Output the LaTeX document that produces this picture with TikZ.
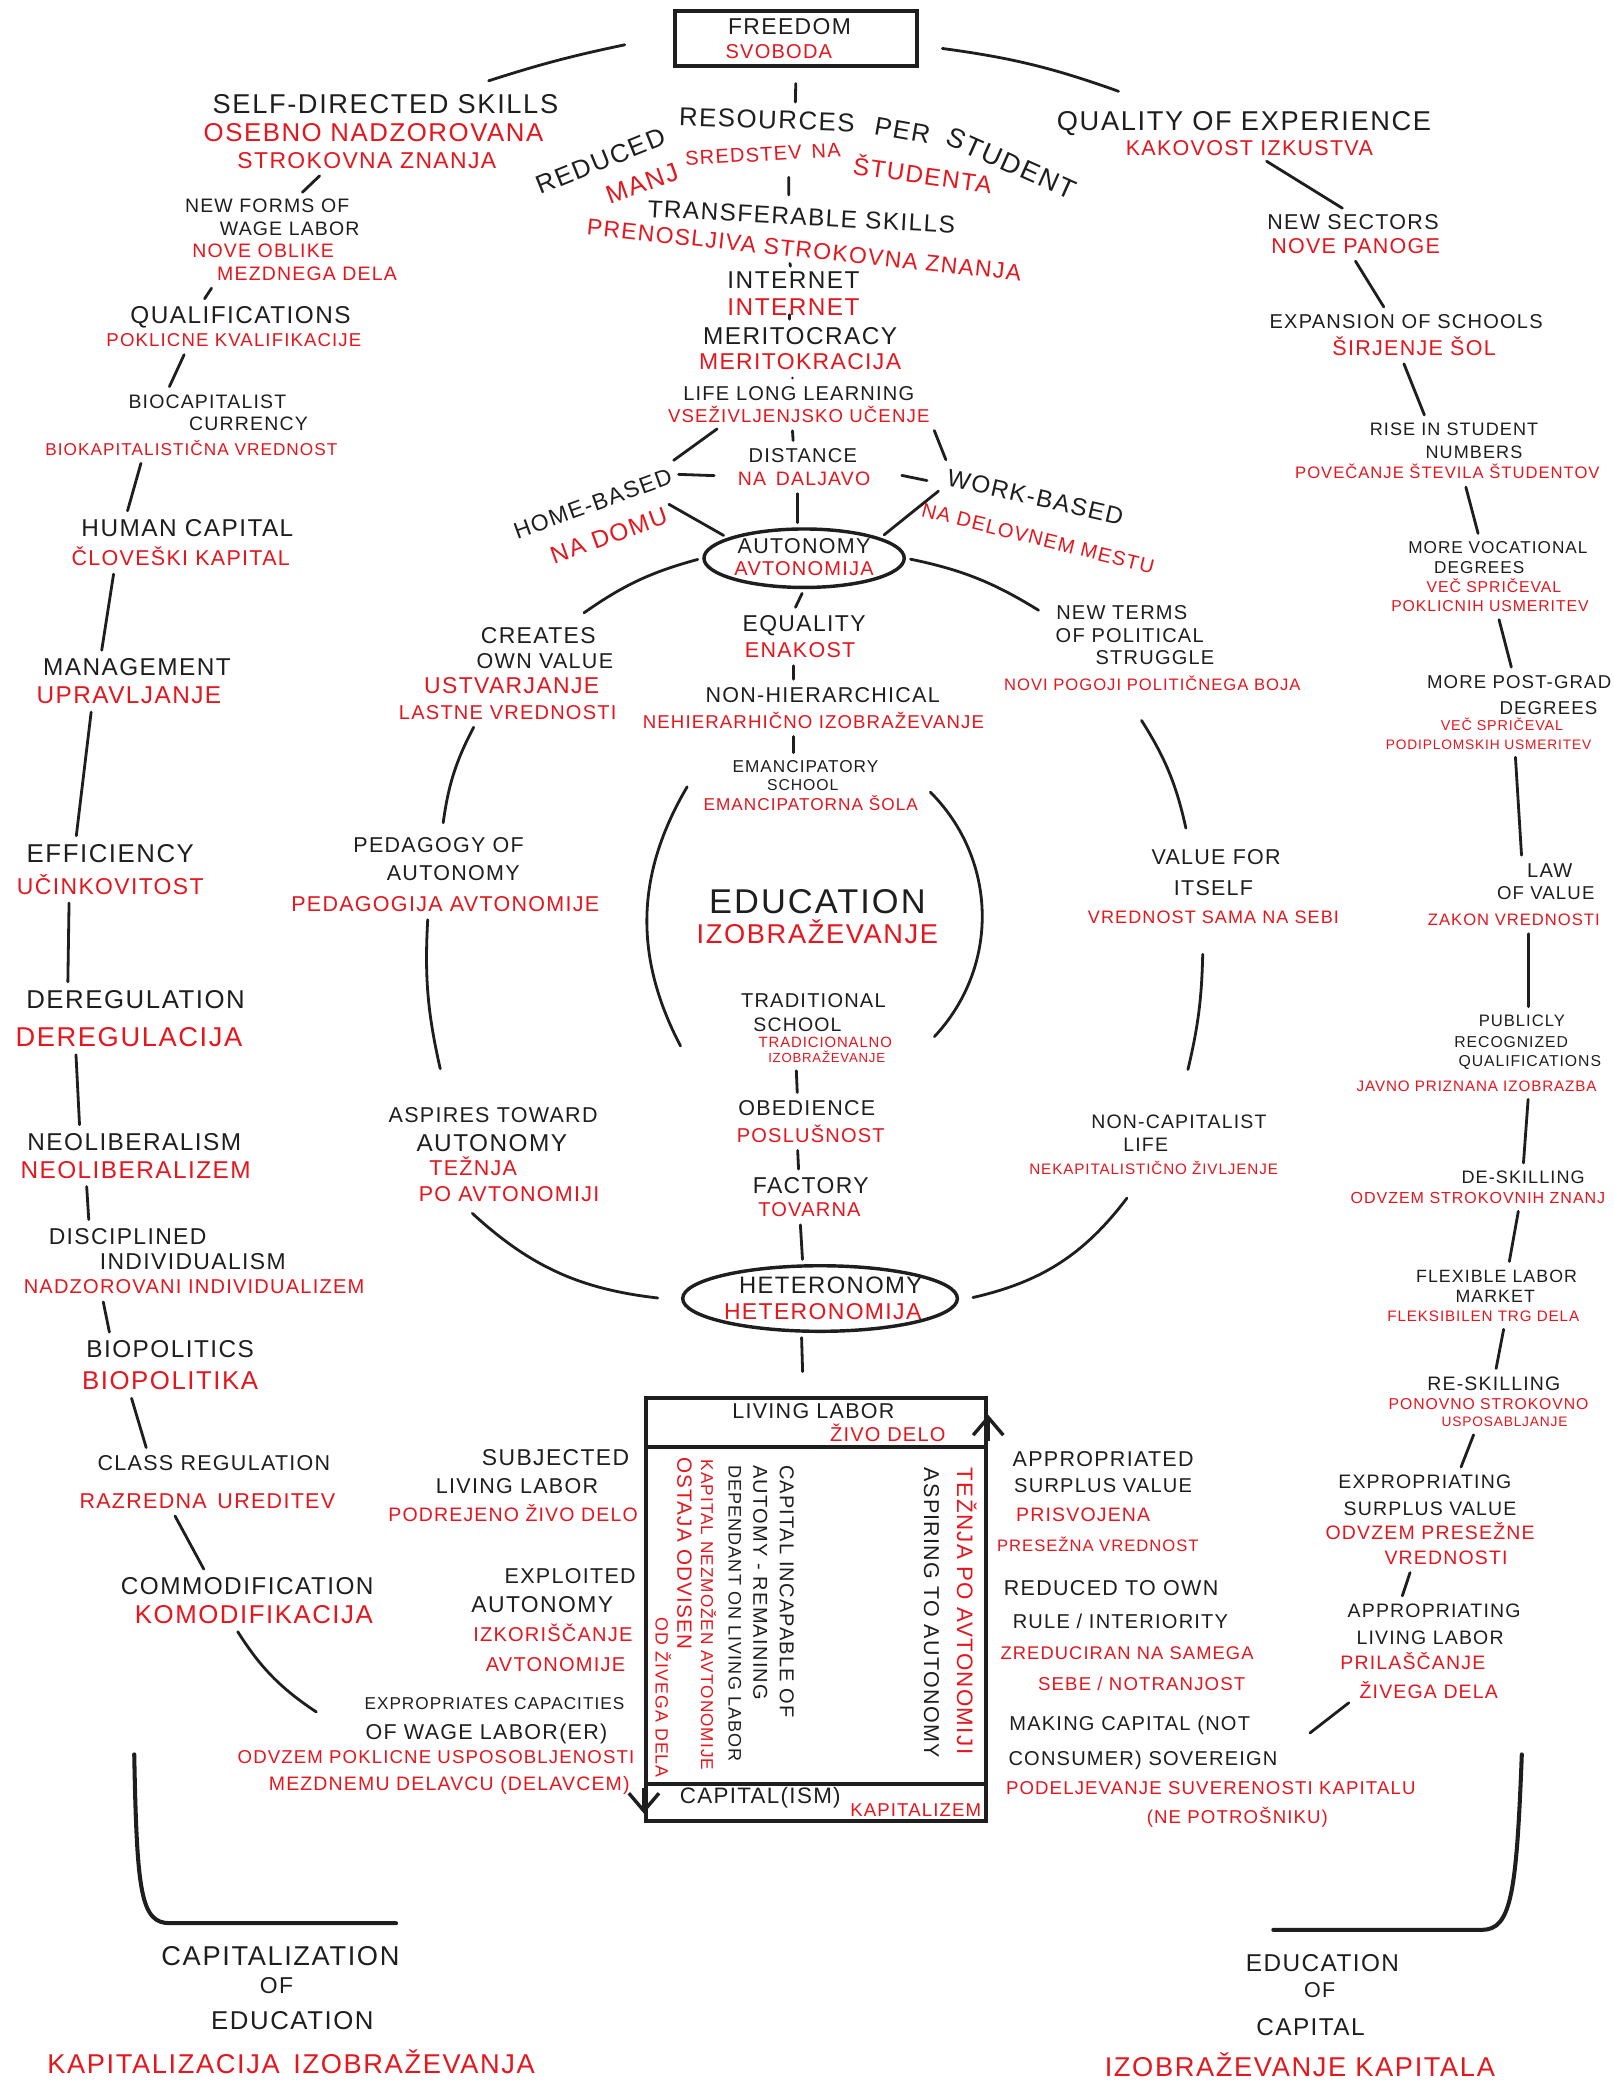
\documentclass[tikz,border=0pt]{standalone}
\usepackage{fontspec}
\setmainfont{Liberation Sans}[LetterSpace=6]
\usepackage{tikz}
\usetikzlibrary{arrows.meta,calc,positioning,shapes.geometric}
\definecolor{eduink}{HTML}{1E1E1E}
\definecolor{edured}{HTML}{E4161E}
\tikzset{%
  eduen/.style={inner sep=0.8pt, text=eduink},
  edusl/.style={inner sep=0.8pt, text=edured},
  fs/.style={font=\pgfmathsetmacro\edufs{0.92*#1}\fontsize{\edufs}{\edufs}\selectfont, text height={#1*0.67pt}, text depth={#1*0.03pt}},
  edulink/.style={draw=eduink, line width=0.9pt, line cap=round, shorten <=1.5pt, shorten >=1.5pt},
  eduframe/.style={draw=eduink, line width=1.3pt},
  eduoval/.style={ellipse, draw=eduink, line width=1.1pt, inner sep=0pt},
  edubarb/.style={draw=eduink, line width=1.1pt, -{Straight Barb[length=2mm,width=3.4mm]}}
}

\begin{document}
\begin{tikzpicture}[x=0.15mm, y=-0.15mm]
  \fill[white] (0,0) rectangle (1214,1568);
  \useasboundingbox (0,0) rectangle (1214,1568);

  % top
  \node[eduframe, minimum width=27.3mm, minimum height=6.2mm, inner sep=0pt] (freedom) at (599,29) {};
  \node[eduen, fs=8] (freedom1) at (594,20) {FREEDOM};
  \node[edusl, fs=7] (freedom2) at (586,39) {SVOBODA};

  \node[eduen, fs=9, rotate=22] (rr1) at (452,121) {REDUCED};
  \node[eduen, fs=9, rotate=-2] (rr2) at (577,90) {RESOURCES};
  \node[eduen, fs=9, rotate=-10] (rr3) at (679,98) {PER};
  \node[eduen, fs=9.5, rotate=-24] (rr4) at (761,123) {STUDENT};
  \node[edusl, fs=9, rotate=20] (mr1) at (483,138) {MANJ};
  \node[edusl, fs=7, rotate=3] (mr2) at (574,116) {SREDSTEV\enspace NA};
  \node[edusl, fs=8.5, rotate=-8] (mr3) at (694,132) {ŠTUDENTA};

  % left chain
  \node[eduen, fs=9.5] (sds1) at (290,78) {SELF-DIRECTED SKILLS};
  \node[edusl, fs=9] (sds2) at (281,100) {OSEBNO NADZOROVANA};
  \node[edusl, fs=8] (sds3) at (276,121) {STROKOVNA ZNANJA};
  \node[eduen, fs=6.8] (nfw1) at (201,155) {NEW FORMS OF};
  \node[eduen, fs=6.8] (nfw2) at (218,172) {WAGE LABOR};
  \node[edusl, fs=6.8] (nfw3) at (198,189) {NOVE OBLIKE};
  \node[edusl, fs=6.8] (nfw4) at (231,206) {MEZDNEGA DELA};
  \node[eduen, fs=8.5] (qual1) at (181,237) {QUALIFICATIONS};
  \node[edusl, fs=6.5] (qual2) at (176,256) {POKLICNE KVALIFIKACIJE};
  \node[eduen, fs=6.8] (bio1) at (156,302) {BIOCAPITALIST};
  \node[eduen, fs=6.8] (bio2) at (187,319) {CURRENCY};
  \node[edusl, fs=6] (bio3) at (144,338) {BIOKAPITALISTIČNA VREDNOST};
  \node[eduen, fs=8.5] (hum1) at (141,397) {HUMAN CAPITAL};
  \node[edusl, fs=7.5] (hum2) at (136,420) {ČLOVEŠKI KAPITAL};
  \node[eduen, fs=8.5] (man1) at (103,502) {MANAGEMENT};
  \node[edusl, fs=8.5] (man2) at (97,523) {UPRAVLJANJE};
  \node[eduen, fs=9] (eff1) at (83,642) {EFFICIENCY};
  \node[edusl, fs=8] (eff2) at (83,667) {UČINKOVITOST};
  \node[eduen, fs=9] (dereg1) at (102,752) {DEREGULATION};
  \node[edusl, fs=9.5] (dereg2) at (97,780) {DEREGULACIJA};
  \node[eduen, fs=8.5] (neo1) at (101,859) {NEOLIBERALISM};
  \node[edusl, fs=8.5] (neo2) at (102,880) {NEOLIBERALIZEM};
  \node[eduen, fs=8] (disc1) at (96,930) {DISCIPLINED};
  \node[eduen, fs=8] (disc2) at (145,949) {INDIVIDUALISM};
  \node[edusl, fs=7] (disc3) at (146,968) {NADZOROVANI INDIVIDUALIZEM};
  \node[eduen, fs=8.5] (biop1) at (128,1015) {BIOPOLITICS};
  \node[edusl, fs=9] (biop2) at (128,1039) {BIOPOLITIKA};
  \node[eduen, fs=7.5] (cls1) at (161,1101) {CLASS REGULATION};
  \node[edusl, fs=7.5] (cls2) at (156,1129) {RAZREDNA\enspace UREDITEV};
  \node[eduen, fs=8.5] (com1) at (186,1193) {COMMODIFICATION};
  \node[edusl, fs=9] (com2) at (191,1215) {KOMODIFIKACIJA};
  \node[eduen, fs=6] (expc1) at (372,1282) {EXPROPRIATES CAPACITIES};
  \node[eduen, fs=7.5] (expc2) at (366,1303) {OF WAGE LABOR(ER)};
  \node[edusl, fs=6.5] (expc3) at (328,1322) {ODVZEM POKLICNE USPOSOBLJENOSTI};
  \node[edusl, fs=6.8] (expc4) at (338,1342) {MEZDNEMU DELAVCU (DELAVCEM)};
  \node[eduen, fs=9.5] (capedu1) at (211,1472) {CAPITALIZATION};
  \node[eduen, fs=8] (capedu2) at (208,1494) {OF};
  \node[eduen, fs=9] (capedu3) at (220,1520) {EDUCATION};
  \node[edusl, fs=9.5] (capedu4) at (219,1553) {KAPITALIZACIJA\enspace IZOBRAŽEVANJA};

  % centre
  \node[eduen, fs=8.5, rotate=-3] (tr1) at (603,163) {TRANSFERABLE SKILLS};
  \node[edusl, fs=8, rotate=-6] (tr2) at (605,188) {PRENOSLJIVA STROKOVNA ZNANJA};
  \node[eduen, fs=8.5] (inet1) at (597,211) {INTERNET};
  \node[edusl, fs=8.5] (inet2) at (597,231) {INTERNET};
  \node[eduen, fs=8.5] (mer1) at (602,253) {MERITOCRACY};
  \node[edusl, fs=8] (mer2) at (602,272) {MERITOKRACIJA};
  \node[eduen, fs=7] (lll1) at (601,296) {LIFE LONG LEARNING};
  \node[edusl, fs=6.5] (lll2) at (601,313) {VSEŽIVLJENJSKO UČENJE};
  \node[eduen, fs=7] (dist1) at (604,343) {DISTANCE};
  \node[edusl, fs=6.8] (dist2) at (605,360) {NA\enspace DALJAVO};
  \node[eduen, fs=8, rotate=20] (home1) at (446,379) {HOME-BASED};
  \node[edusl, fs=8.5, rotate=20] (home2) at (458,403) {NA DOMU};
  \node[eduen, fs=8.5, rotate=-13] (work1) at (779,374) {WORK-BASED};
  \node[edusl, fs=7, rotate=-14] (work2) at (781,405) {NA DELOVNEM MESTU};
  \node[eduoval, minimum width=22.6mm, minimum height=6.6mm] (auto) at (605,420) {};
  \node[eduen, fs=7.5] (auto1) at (605,411) {AUTONOMY};
  \node[edusl, fs=7] (auto2) at (605,428) {AVTONOMIJA};
  \node[eduen, fs=8] (equ1) at (605,469) {EQUALITY};
  \node[edusl, fs=7.5] (equ2) at (602,489) {ENAKOST};
  \node[eduen, fs=7.5] (nonh1) at (619,523) {NON-HIERARCHICAL};
  \node[edusl, fs=6.5] (nonh2) at (612,543) {NEHIERARHIČNO IZOBRAŽEVANJE};
  \node[eduen, fs=6] (eman1) at (606,577) {EMANCIPATORY};
  \node[eduen, fs=5.5] (eman2) at (604,591) {SCHOOL};
  \node[edusl, fs=6] (eman3) at (610,605) {EMANCIPATORNA ŠOLA};
  \node[eduen, fs=12] (edu1) at (615,678) {EDUCATION};
  \node[edusl, fs=9.5] (edu2) at (615,703) {IZOBRAŽEVANJE};
  \node[eduen, fs=7] (trad1) at (612,753) {TRADITIONAL};
  \node[eduen, fs=6.8] (trad2) at (600,771) {SCHOOL};
  \node[edusl, fs=5.2] (trad3) at (621,784) {TRADICIONALNO};
  \node[edusl, fs=4.6] (trad4) at (622,796) {IZOBRAŽEVANJE};
  \node[eduen, fs=7.5] (obed1) at (607,834) {OBEDIENCE};
  \node[edusl, fs=7] (obed2) at (610,854) {POSLUŠNOST};
  \node[eduen, fs=8] (fact1) at (610,892) {FACTORY};
  \node[edusl, fs=7] (fact2) at (609,910) {TOVARNA};
  \node[eduoval, minimum width=31mm, minimum height=7.4mm] (het) at (617,977) {};
  \node[eduen, fs=8.3] (het1) at (625,967) {HETERONOMY};
  \node[edusl, fs=8] (het2) at (619,987) {HETERONOMIJA};

  % box
  \node[eduframe, minimum width=38.4mm, minimum height=47.7mm, inner sep=0pt] (lbox) at (614,1211) {};
  \node[eduen, fs=7.5] (liv1) at (612,1062) {LIVING LABOR};
  \node[edusl, fs=7] (liv2) at (668,1079) {ŽIVO DELO};
  \node[eduen, fs=7.8] (capism1) at (572,1351) {CAPITAL(ISM)};
  \node[edusl, fs=6.5] (capism2) at (689,1362) {KAPITALIZEM};
  \node[eduen, fs=7, rotate=-90, anchor=west] (inc1) at (592,1100) {CAPITAL INCAPABLE OF};
  \node[eduen, fs=7, rotate=-90, anchor=west] (inc2) at (572,1100) {AUTOMY - REMAINING};
  \node[eduen, fs=6.3, rotate=-90, anchor=west] (inc3) at (553,1100) {DEPENDANT ON LIVING LABOR};
  \node[edusl, fs=6, rotate=-90, anchor=west] (inc4) at (532,1096) {KAPITAL NEZMOŽEN AVTONOMIJE};
  \node[edusl, fs=7.2, rotate=-90, anchor=west] (inc5) at (515,1094) {OSTAJA ODVISEN};
  \node[edusl, fs=6.2, rotate=-90, anchor=west] (inc6) at (498,1215) {OD ŽIVEGA DELA};
  \node[eduen, fs=7.5, rotate=-90, anchor=west] (aspb1) at (701,1102) {ASPIRING TO AUTONOMY};
  \node[edusl, fs=7.8, rotate=-90, anchor=west] (aspb2) at (726,1102) {TEŽNJA PO AVTONOMIJI};

  \node[eduen, fs=8] (subj1) at (418,1097) {SUBJECTED};
  \node[eduen, fs=7.5] (subj2) at (389,1118) {LIVING LABOR};
  \node[edusl, fs=6.8] (subj3) at (386,1140) {PODREJENO ŽIVO DELO};
  \node[eduen, fs=7.5] (expl1) at (429,1186) {EXPLOITED};
  \node[eduen, fs=8] (expl2) at (408,1207) {AUTONOMY};
  \node[edusl, fs=7] (expl3) at (416,1230) {IZKORIŠČANJE};
  \node[edusl, fs=7] (expl4) at (418,1252) {AVTONOMIJE};

  \node[eduen, fs=7.5] (apsv1) at (830,1098) {APPROPRIATED};
  \node[eduen, fs=7] (apsv2) at (830,1118) {SURPLUS VALUE};
  \node[edusl, fs=6.8] (apsv3) at (815,1140) {PRISVOJENA};
  \node[edusl, fs=5.8] (apsv4) at (826,1163) {PRESEŽNA VREDNOST};
  \node[eduen, fs=7.5] (rto1) at (836,1195) {REDUCED TO OWN};
  \node[eduen, fs=7] (rto2) at (843,1220) {RULE / INTERIORITY};
  \node[edusl, fs=6.4] (rto3) at (848,1244) {ZREDUCIRAN NA SAMEGA};
  \node[edusl, fs=6.5] (rto4) at (859,1267) {SEBE / NOTRANJOST};
  \node[eduen, fs=7] (mak1) at (850,1297) {MAKING CAPITAL (NOT};
  \node[eduen, fs=7] (mak2) at (860,1323) {CONSUMER) SOVEREIGN};
  \node[edusl, fs=6.5] (mak3) at (911,1345) {PODELJEVANJE SUVERENOSTI KAPITALU};
  \node[edusl, fs=6.5] (mak4) at (931,1367) {(NE POTROŠNIKU)};

  % ring
  \node[eduen, fs=8] (crea1) at (405,478) {CREATES};
  \node[eduen, fs=7.5] (crea2) at (410,497) {OWN VALUE};
  \node[edusl, fs=8] (crea3) at (385,516) {USTVARJANJE};
  \node[edusl, fs=7] (crea4) at (382,536) {LASTNE VREDNOSTI};
  \node[eduen, fs=7.5] (peda1) at (330,636) {PEDAGOGY OF};
  \node[eduen, fs=7.5] (peda2) at (341,657) {AUTONOMY};
  \node[edusl, fs=7.5] (peda3) at (335,680) {PEDAGOGIJA AVTONOMIJE};
  \node[eduen, fs=7.5] (asp1) at (371,839) {ASPIRES TOWARD};
  \node[eduen, fs=8.5] (asp2) at (370,860) {AUTONOMY};
  \node[edusl, fs=7.5] (asp3) at (356,879) {TEŽNJA};
  \node[edusl, fs=7.5] (asp4) at (383,898) {PO AVTONOMIJI};
  \node[eduen, fs=7] (newt1) at (844,461) {NEW TERMS};
  \node[eduen, fs=7] (newt2) at (850,478) {OF POLITICAL};
  \node[eduen, fs=7] (newt3) at (869,495) {STRUGGLE};
  \node[edusl, fs=5.8] (newt4) at (867,515) {NOVI POGOJI POLITIČNEGA BOJA};
  \node[eduen, fs=7.5] (val1) at (915,645) {VALUE FOR};
  \node[eduen, fs=7.5] (val2) at (913,668) {ITSELF};
  \node[edusl, fs=6.3] (val3) at (913,690) {VREDNOST SAMA NA SEBI};
  \node[eduen, fs=6.8] (nonc1) at (887,844) {NON-CAPITALIST};
  \node[eduen, fs=6.8] (nonc2) at (862,861) {LIFE};
  \node[edusl, fs=5.3] (nonc3) at (868,880) {NEKAPITALISTIČNO ŽIVLJENJE};

  % right chain
  \node[eduen, fs=9.5] (qoe1) at (936,91) {QUALITY OF EXPERIENCE};
  \node[edusl, fs=7.5] (qoe2) at (940,111) {KAKOVOST IZKUSTVA};
  \node[eduen, fs=7.5] (nsec1) at (1018,167) {NEW SECTORS};
  \node[edusl, fs=7.5] (nsec2) at (1020,185) {NOVE PANOGE};
  \node[eduen, fs=7] (exp1) at (1058,242) {EXPANSION OF SCHOOLS};
  \node[edusl, fs=7.5] (exp2) at (1064,262) {ŠIRJENJE ŠOL};
  \node[eduen, fs=6.3] (rise1) at (1094,323) {RISE IN STUDENT};
  \node[eduen, fs=6.3] (rise2) at (1109,340) {NUMBERS};
  \node[edusl, fs=5.8] (rise3) at (1089,356) {POVEČANJE ŠTEVILA ŠTUDENTOV};
  \node[eduen, fs=6] (voc1) at (1127,412) {MORE VOCATIONAL};
  \node[eduen, fs=6] (voc2) at (1113,427) {DEGREES};
  \node[edusl, fs=5.5] (voc3) at (1124,442) {VEČ SPRIČEVAL};
  \node[edusl, fs=5.5] (voc4) at (1121,456) {POKLICNIH USMERITEV};
  \node[eduen, fs=6.5] (pg1) at (1143,513) {MORE POST-GRAD};
  \node[eduen, fs=6.5] (pg2) at (1165,533) {DEGREES};
  \node[edusl, fs=5] (pg3) at (1130,546) {VEČ SPRIČEVAL};
  \node[edusl, fs=4.8] (pg4) at (1120,560) {PODIPLOMSKIH USMERITEV};
  \node[eduen, fs=7] (law1) at (1166,655) {LAW};
  \node[eduen, fs=6.5] (law2) at (1163,672) {OF VALUE};
  \node[edusl, fs=5.8] (law3) at (1139,692) {ZAKON VREDNOSTI};
  \node[eduen, fs=5.8] (pub1) at (1145,768) {PUBLICLY};
  \node[eduen, fs=5.5] (pub2) at (1137,784) {RECOGNIZED};
  \node[eduen, fs=5.5] (pub3) at (1151,798) {QUALIFICATIONS};
  \node[edusl, fs=5.3] (pub4) at (1111,817) {JAVNO PRIZNANA IZOBRAZBA};
  \node[eduen, fs=6.3] (desk1) at (1146,886) {DE-SKILLING};
  \node[edusl, fs=5.6] (desk2) at (1112,901) {ODVZEM STROKOVNIH ZNANJ};
  \node[eduen, fs=6.2] (flex1) at (1126,960) {FLEXIBLE LABOR};
  \node[eduen, fs=6.2] (flex2) at (1125,975) {MARKET};
  \node[edusl, fs=5.3] (flex3) at (1116,990) {FLEKSIBILEN TRG DELA};
  \node[eduen, fs=6.8] (resk1) at (1124,1041) {RE-SKILLING};
  \node[edusl, fs=5.5] (resk2) at (1120,1056) {PONOVNO STROKOVNO};
  \node[edusl, fs=4.8] (resk3) at (1132,1070) {USPOSABLJANJE};
  \node[eduen, fs=6.8] (expr1) at (1072,1115) {EXPROPRIATING};
  \node[eduen, fs=6.8] (expr2) at (1076,1135) {SURPLUS VALUE};
  \node[edusl, fs=6.8] (expr3) at (1076,1153) {ODVZEM PRESEŽNE};
  \node[edusl, fs=6.8] (expr4) at (1088,1172) {VREDNOSTI};
  \node[eduen, fs=6.8] (appr1) at (1079,1212) {APPROPRIATING};
  \node[eduen, fs=6.8] (appr2) at (1076,1232) {LIVING LABOR};
  \node[edusl, fs=6.8] (appr3) at (1063,1251) {PRILAŠČANJE};
  \node[edusl, fs=6.8] (appr4) at (1075,1273) {ŽIVEGA DELA};
  \node[eduen, fs=8.5] (educap1) at (995,1477) {EDUCATION};
  \node[eduen, fs=7.5] (educap2) at (993,1497) {OF};
  \node[eduen, fs=8.5] (educap3) at (986,1525) {CAPITAL};
  \node[edusl, fs=9.5] (educap4) at (978,1555) {IZOBRAŽEVANJE KAPITALA};

  % connectors
  \draw[edulink] ($(sds1.north east)+(-58,-6)$) to[bend left=3] ($(freedom.west)+(-33,4)$);
  \draw[edulink] ($(freedom.east)+(14,7)$) to[bend left=6] ($(qoe1.north west)+(52,-11)$);
  \draw[edulink, shorten <=5pt] (freedom.south) -- ($(rr2.north)+(21,0)$);
  \draw[edulink, shorten <=4pt, shorten >=3pt] ($(mr2.south)+(19,0)$) -- ($(tr1.north)+(-10,0)$);
  \draw[edulink] ($(tr2.south)+(-10,0)$) -- ($(inet1.north)+(-2,0)$);
  \draw[edulink] ($(inet2.south)+(-3,0)$) -- ($(mer1.north)+(-8,0)$);
  \draw[edulink] ($(mer2.south)+(-6,0)$) -- ($(lll1.north)+(-5,0)$);
  \draw[edulink] ($(lll2.south west)+(42,0)$) -- (home1.north east);
  \draw[edulink] ($(lll2.south)+(-5,0)$) -- ($(dist1.north)+(-7,0)$);
  \draw[edulink] (lll2.south east) -- (work1.north west);
  \draw[edulink] ($(dist2.west)+(-12,-2)$) -- (home1.east);
  \draw[edulink] ($(dist2.east)+(18,-3)$) -- ($(work1.west)+(-10,4)$);
  \draw[edulink] ($(dist2.south)+(-5,0)$) -- ($(auto.north)+(-5,0)$);
  \draw[edulink] (home2.north east) -- (auto.165);
  \draw[edulink] (work1.south west) -- (auto.15);
  \draw[edulink] (auto.west) to[bend right=10] ($(crea1.north east)+(-14,-6)$);
  \draw[edulink] (auto.east) to[bend left=10] ($(newt1.west)+(-8,0)$);
  \draw[edulink] (auto.south) -- ($(equ1.north)+(-8,0)$);
  \draw[edulink] ($(equ2.south)+(-5,0)$) -- ($(nonh1.north)+(-22,0)$);
  \draw[edulink] ($(nonh2.south)+(-15,0)$) -- ($(eman1.north)+(-9,0)$);
  \draw[edulink] ($(trad4.south)+(-23,0)$) -- ($(obed1.north)+(-7,0)$);
  \draw[edulink] ($(obed2.south)+(-10,0)$) -- ($(fact1.north)+(-9,0)$);
  \draw[edulink] ($(fact2.south)+(-7,0)$) -- ($(het.north)+(-13,0)$);
  \draw[edulink] ($(het.south)+(-14,0)$) -- ($(lbox.north)+(-10,-15)$);

  \draw[edulink] ($(crea4.south)+(-24,0)$) to[bend right=10] ($(peda1.north)+(3,-5)$);
  \draw[edulink] ($(peda3.south)+(-13,0)$) to[bend right=8] ($(asp1.north)+(-39,-23)$);
  \draw[edulink] ($(asp4.south west)+(40,4)$) to[bend right=18] ($(het.west)+(-14,0)$);
  \draw[edulink] ($(newt4.south)+(-10,17)$) to[bend left=10] ($(val1.north)+(-22,-10)$);
  \draw[edulink] ($(val3.south)+(-8,17)$) to[bend left=6] ($(nonc1.north)+(6,-28)$);
  \draw[edulink] ($(nonc3.south)+(-18,12)$) to[bend left=20] ($(het.east)+(7,0)$);

  \draw[edulink] ($(sds3.south)+(-33,0)$) -- ($(nfw1.north)+(24,0)$);
  \draw[edulink] (nfw4.south west) -- ($(qual1.north)+(-29,0)$);
  \draw[edulink] ($(qual2.south)+(-36,0)$) -- ($(bio1.north)+(-30,0)$);
  \draw[edulink] ($(bio3.south)+(-37,0)$) -- ($(hum1.north)+(-46,0)$);
  \draw[edulink] ($(hum2.south)+(-50,0)$) -- ($(man1.north)+(-27,0)$);
  \draw[edulink] ($(man2.south)+(-28,0)$) -- ($(eff1.north)+(-26,0)$);
  \draw[edulink] ($(eff2.south)+(-31,0)$) -- ($(dereg1.north)+(-51,0)$);
  \draw[edulink] ($(dereg2.south)+(-40,0)$) -- ($(neo1.north)+(-41,0)$);
  \draw[edulink] ($(neo2.south)+(-37,0)$) -- ($(disc1.north)+(-29,0)$);
  \draw[edulink] ($(disc3.south)+(-69,0)$) -- ($(biop1.north)+(-45,0)$);
  \draw[edulink] ($(biop2.south)+(-30,0)$) -- ($(cls1.north)+(-50,0)$);
  \draw[edulink] ($(cls2.south)+(-26,0)$) -- ($(com1.north)+(-31,0)$);
  \draw[edulink] ($(com2.south)+(-14,0)$) to[bend right=12] ($(expc1.west)+(-31,8)$);

  \draw[edulink] ($(qoe2.south)+(10,0)$) -- ($(nsec1.north)+(-5,0)$);
  \draw[edulink] ($(nsec2.south)+(-2,0)$) -- ($(exp1.north)+(-15,0)$);
  \draw[edulink] ($(exp2.south)+(-9,0)$) -- ($(rise1.north)+(-21,0)$);
  \draw[edulink] ($(rise3.south)+(13,0)$) -- ($(voc1.north)+(-14,0)$);
  \draw[edulink] ($(voc4.south)+(6,0)$) -- ($(pg1.north)+(-5,0)$);
  \draw[edulink] ($(pg4.south)+(20,0)$) -- ($(law1.north)+(-21,0)$);
  \draw[edulink] ($(law3.south)+(11,0)$) -- ($(pub1.north)+(5,0)$);
  \draw[edulink] ($(pub4.south)+(39,0)$) -- (desk1.north);
  \draw[edulink] ($(desk2.south)+(31,0)$) -- ($(flex1.north)+(9,0)$);
  \draw[edulink] ($(flex3.south)+(16,0)$) -- ($(resk1.north)+(1,0)$);
  \draw[edulink] ($(resk3.south)+(-22,0)$) -- ($(expr1.north)+(26,0)$);
  \draw[edulink] ($(expr4.south)+(-26,0)$) -- ($(appr1.north)+(-25,0)$);
  \draw[edulink] ($(appr4.west)+(-3,6)$) -- ($(mak1.east)+(40,9)$);

  % box bands and arrows
  \draw[eduframe] ($(lbox.north west)+(0,38)$) -- ($(lbox.north east)+(0,38)$);
  \draw[eduframe] ($(lbox.south west)+(0,-29)$) -- ($(lbox.south east)+(0,-29)$);
  \draw[edubarb] ($(lbox.north east)+(0,34)$) -- ($(lbox.north east)+(0,14)$);
  \draw[edubarb] ($(lbox.south west)+(0,-26)$) -- ($(lbox.south west)+(0,-7)$);

  % education circle and brackets
  \draw[edulink, shorten <=0pt, shorten >=0pt] (517,592) to[bend right=29] (512,787);
  \draw[edulink, shorten <=0pt, shorten >=0pt] (700,596) to[bend left=44] (703,780);
  \draw[draw=eduink, line width=1.3pt, line cap=round] (101,1320) .. controls (103,1425) and (106,1447) .. (128,1447) -- (298,1447);
  \draw[draw=eduink, line width=1.3pt, line cap=round] (1145,1320) .. controls (1141,1425) and (1137,1452) .. (1115,1452) -- (958,1452);
\end{tikzpicture}
\end{document}
